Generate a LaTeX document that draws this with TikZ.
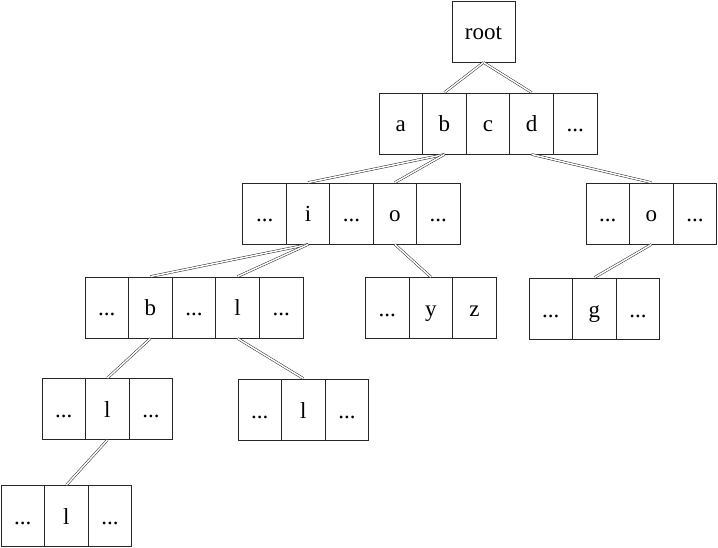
\documentclass[tikz,border=0pt]{standalone}
\usepackage{fontspec}
\setmainfont{Liberation Serif}
\begin{document}
\begin{tikzpicture}[x=1pt,y=-1pt,
  cell/.style={draw=black!85, line width=0.9pt, minimum width=43.6pt, minimum height=61pt,
    inner sep=0pt, text height=20pt, text depth=3pt, font=\fontsize{23}{27}\selectfont},
  rootbox/.style={cell, minimum width=63pt},
  link/.style={draw=black!85, line width=0.5pt, double=white, double distance=1.5pt}]
\useasboundingbox (0,0) rectangle (718,548);
% root
\node[rootbox] (root) at (483.5,31.5) {root};
% row 1
\node[cell] (a1) at (400.8,123.5) {a};
\node[cell] (b1) at (444.4,123.5) {b};
\node[cell] (c1) at (488.0,123.5) {c};
\node[cell] (d1) at (531.6,123.5) {d};
\node[cell] (e1) at (575.2,123.5) {...};
% row 2 left
\node[cell] (l2a) at (264.7,213.5) {...};
\node[cell] (l2i) at (308.1,213.5) {i};
\node[cell] (l2c) at (351.5,213.5) {...};
\node[cell] (l2o) at (394.9,213.5) {o};
\node[cell] (l2e) at (438.3,213.5) {...};
% row 2 right
\node[cell] (r2a) at (607.8,213.5) {...};
\node[cell] (r2o) at (651.4,213.5) {o};
\node[cell] (r2c) at (695.0,213.5) {...};
% row 3 left
\node[cell] (l3a) at (106.8,307.5) {...};
\node[cell] (l3b) at (150.4,307.5) {b};
\node[cell] (l3c) at (194.0,307.5) {...};
\node[cell] (l3l) at (237.6,307.5) {l};
\node[cell] (l3e) at (281.2,307.5) {...};
% row 3 middle
\node[cell] (m3a) at (387.3,308) {...};
\node[cell] (m3y) at (430.9,308) {y};
\node[cell] (m3z) at (474.5,308) {z};
% row 3 right
\node[cell] (r3a) at (550.8,308.5) {...};
\node[cell] (r3g) at (594.4,308.5) {g};
\node[cell] (r3c) at (638.0,308.5) {...};
% row 4 left
\node[cell] (l4a) at (63.8,409) {...};
\node[cell] (l4l) at (107.4,409) {l};
\node[cell] (l4c) at (151.0,409) {...};
% row 4 right
\node[cell] (r4a) at (259.8,409.5) {...};
\node[cell] (r4l) at (303.4,409.5) {l};
\node[cell] (r4c) at (347.0,409.5) {...};
% row 5
\node[cell] (f5a) at (22.8,516) {...};
\node[cell] (f5l) at (66.4,516) {l};
\node[cell] (f5c) at (110.0,516) {...};
% links
\draw[link] (root.south) -- (b1.north);
\draw[link] (root.south) -- (d1.north);
\draw[link] (b1.south) -- (l2i.north);
\draw[link] (b1.south) -- (l2o.north);
\draw[link] (d1.south) -- (r2o.north);
\draw[link] (l2i.south) -- (l3b.north);
\draw[link] (l2i.south) -- (l3l.north);
\draw[link] (l2o.south) -- (m3y.north);
\draw[link] (r2o.south) -- (r3g.north);
\draw[link] (l3b.south) -- (l4l.north);
\draw[link] (l3l.south) -- (r4l.north);
\draw[link] (l4l.south) -- (f5l.north);
\end{tikzpicture}
\end{document}
